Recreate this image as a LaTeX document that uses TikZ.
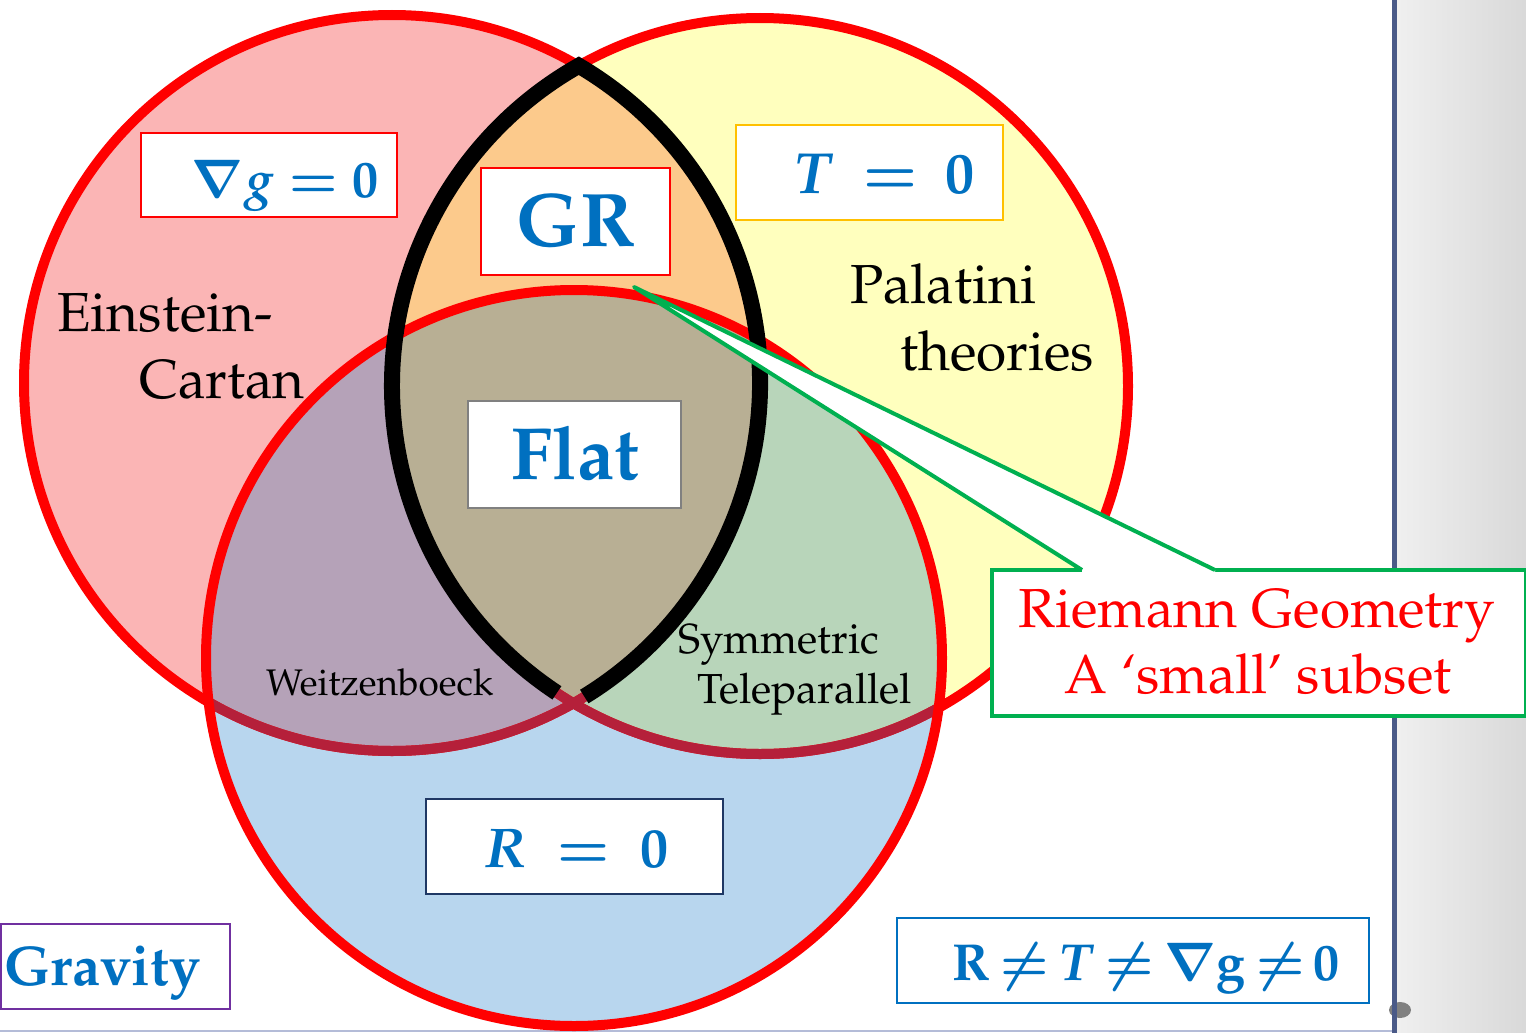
\documentclass[tikz,border=0pt]{standalone}
\usepackage[T1]{fontenc}
\usepackage{mathpazo}
\usepackage{amsmath,bm}
\usetikzlibrary{calc}
\definecolor{cpink}{HTML}{FBB5B5}
\definecolor{cyel}{HTML}{FFFFBE}
\definecolor{cblue}{HTML}{B8D6EE}
\definecolor{corange}{HTML}{FCCA8C}
\definecolor{cpurple}{HTML}{B5A2B8}
\definecolor{cgreenr}{HTML}{B8D5BA}
\definecolor{ccenter}{HTML}{B8AF94}
\definecolor{ccrimson}{HTML}{B5203A}
\definecolor{cred}{HTML}{FF0000}
\definecolor{ctext}{HTML}{0070C0}
\definecolor{cgreen}{HTML}{00B050}
\definecolor{cgold}{HTML}{FFC000}
\definecolor{cnavy}{HTML}{1F3864}
\definecolor{cpurp}{HTML}{7030A0}
\definecolor{cslate}{HTML}{4A5A88}
\definecolor{cbot}{HTML}{B4BCD8}
\begin{document}
\begin{tikzpicture}[x=1pt,y=-1pt,
  box/.style={draw, line width=2pt, fill=white, inner sep=0pt, anchor=north west},
  eq/.style={inner sep=0pt, anchor=base, text=ctext},
  lab/.style={inner sep=0pt, anchor=base west, text=black},
  ring/.style={line width=10pt}
]
\useasboundingbox (0,0) rectangle (1526,1033);
\fill[white] (0,0) rectangle (1394,1033);
\shade[left color=black!6, right color=black!15] (1394,0) rectangle (1526,1033);

% right edge decorations
\fill[black!50] (1400,1010) ellipse[x radius=11, y radius=8];
\draw[cbot, line width=2pt] (0,1031) -- (1394,1031);
\draw[cslate, line width=5pt] (1394,0) -- (1394,1033);

\coordinate (cL) at (392,383);
\coordinate (cR) at (760,386);
\coordinate (cB) at (574,658);
\def\rr{368}

% fills
\fill[cpink] (cL) circle[radius=\rr];
\fill[cyel] (cR) circle[radius=\rr];
\fill[cblue] (cB) circle[radius=\rr];
\begin{scope}
  \clip (cR) circle[radius=\rr];
  \fill[cgreenr] (cB) circle[radius=\rr];
\end{scope}
\begin{scope}
  \clip (cL) circle[radius=\rr];
  \fill[corange] (cR) circle[radius=\rr];
  \fill[cpurple] (cB) circle[radius=\rr];
  \clip (cR) circle[radius=\rr];
  \fill[ccenter] (cB) circle[radius=\rr];
\end{scope}

% borders
\draw[ring, cred] (cL) circle[radius=\rr];
\draw[ring, cred] (cR) circle[radius=\rr];
\begin{scope}
  \clip (cB) circle[radius=\rr];
  \draw[ring, ccrimson] (cL) circle[radius=\rr];
  \draw[ring, ccrimson] (cR) circle[radius=\rr];
\end{scope}
\draw[ring, cred] (cB) circle[radius=\rr];

% black lens
\draw[line width=16pt, black, line join=miter, miter limit=20]
  ($(cR)+(123.5:\rr)$) arc[start angle=123.5, end angle=240.5, radius=\rr]
  arc[start angle=-59.5, end angle=58.5, radius=\rr];

% labels
\node[lab, font=\fontsize{55}{62}\selectfont] (ein) at (57,331) {Einstein-};
\node[lab, font=\fontsize{55}{62}\selectfont] (car) at (139,398) {Cartan};
\node[lab, font=\fontsize{55}{62}\selectfont] (pal) at (850,303) {Palatini};
\node[lab, font=\fontsize{55}{62}\selectfont] (the) at (900,370) {theories};
\node[lab, font=\fontsize{37}{44}\selectfont] (wei) at (266,695) {Weitzenboeck};
\node[lab, font=\fontsize{42}{48}\selectfont] (sym) at (678,653) {Symmetric};
\node[lab, font=\fontsize{42}{48}\selectfont] (tel) at (697,703) {Teleparallel};

% callout box
\node[box, draw=cgreen, line width=4pt, minimum width=534, minimum height=146] (riem) at (990,568) {};
\coordinate (tip) at (634,287);
\coordinate (b1) at ($(riem.north west)+(92,2)$);
\coordinate (b2) at ($(riem.north west)+(225,2)$);
\fill[white] (tip) -- (b2) -- ($(b2)+(0,5)$) -- ($(b1)+(0,5)$) -- (b1) -- cycle;
\draw[cgreen, line width=4pt, line join=round] (b1) -- (tip) -- (b2);
\node[inner sep=0pt, anchor=base, text=cred, font=\fontsize{55}{62}\selectfont] (riem1) at (1257,627) {Riemann Geometry};
\node[inner sep=0pt, anchor=base, text=cred, font=\fontsize{55}{62}\selectfont] (riem2) at (1258,693) {A `small' subset};

% boxes
\node[box, draw=cred, minimum width=256, minimum height=84] (nabla) at (140,132) {};
\node[eq, font=\fontsize{52}{60}\selectfont\boldmath] (nablat) at (285,197) {$\nabla g = 0$};

\node[box, draw=cgold, minimum width=267, minimum height=95] (tbox) at (735,124) {};
\node[eq, font=\fontsize{58}{64}\selectfont\boldmath] (tboxt) at (884,193) {$T\hspace{28pt}{=}\hspace{28pt}\mathbf{0}$};

\node[box, draw=cred, minimum width=189, minimum height=107] (gr) at (480,167) {};
\node[eq, font=\fontsize{76}{84}\selectfont\bfseries] (grt) at (576,246) {GR};

\node[box, draw=black!50, minimum width=213, minimum height=107] (flat) at (467,400) {};
\node[eq, font=\fontsize{74}{84}\selectfont\bfseries] (flatt) at (575,479) {Flat};

\node[box, draw=cnavy, minimum width=297, minimum height=95] (rbox) at (425,798) {};
\node[eq, font=\fontsize{56}{64}\selectfont\boldmath] (rboxt) at (576,867) {$R\hspace{30pt}{=}\hspace{30pt}\mathbf{0}$};

\node[box, draw=cpurp, minimum width=229, minimum height=85] (grav) at (0,923) {};
\node[inner sep=0pt, anchor=base west, text=ctext, font=\fontsize{56}{64}\selectfont\bfseries] (gravt) at (4,985) {Gravity};

\node[box, draw=ctext, minimum width=472, minimum height=85] (neq) at (896,917) {};
\node[eq, font=\fontsize{52}{60}\selectfont\boldmath] (neqt) at (1146,980) {$\thickmuskip=3mu\relax\mathbf{R}\neq T\neq \nabla\mathbf{g}\neq \mathbf{0}$};
\end{tikzpicture}
\end{document}
